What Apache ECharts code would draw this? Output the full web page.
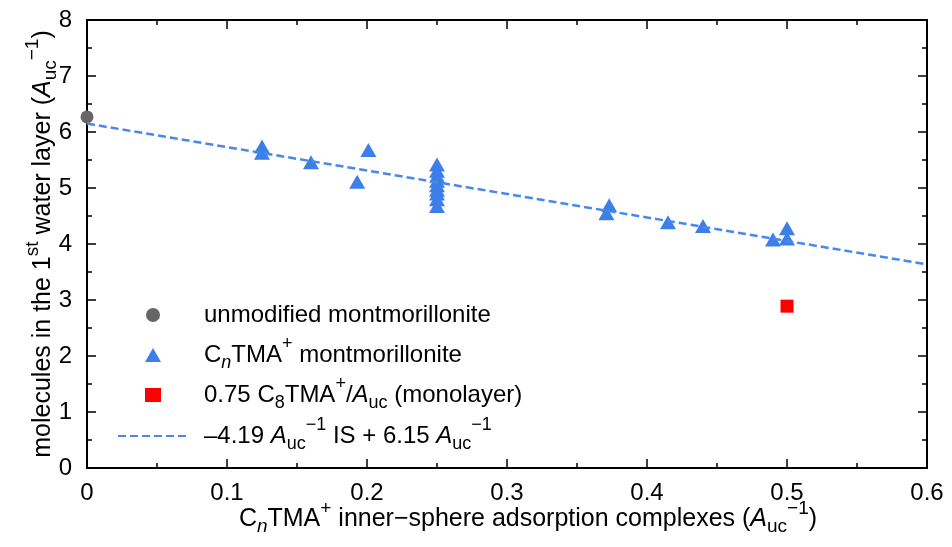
<!DOCTYPE html>
<html>
<head>
<meta charset="utf-8">
<script src="https://cdn.jsdelivr.net/npm/echarts@6/dist/echarts.min.js"></script>
<style>
  html, body { margin: 0; padding: 0; background: #fff; }
  #chart { width: 952px; height: 547px; }
</style>
</head>
<body>
<div id="chart"></div>
<script>
// Water molecules in the first water layer vs. inner-sphere adsorption complexes
const unmodifiedPoints = [[0, 6.27]];
const cnTmaPoints = [
  [0.125, 5.74], [0.125, 5.63], [0.16, 5.46], [0.193, 5.11], [0.201, 5.68],
  [0.25, 5.42], [0.25, 5.31], [0.25, 5.22], [0.25, 5.13], [0.25, 5.05],
  [0.25, 4.97], [0.25, 4.90], [0.25, 4.80], [0.25, 4.68],
  [0.373, 4.69], [0.371, 4.55], [0.415, 4.39], [0.44, 4.32],
  [0.49, 4.08], [0.50, 4.28], [0.50, 4.10]
];
const monolayerPoints = [[0.5, 2.89]];
const fitSlope = -4.19;
const fitIntercept = 6.15;
const fitXRange = [0, 0.6];

const xRange = [0, 0.6];
const yRange = [0, 8];

const FONT = '"Liberation Sans", Arial, Helvetica, sans-serif';

const fitLine = fitXRange.map(x => [x, fitIntercept + fitSlope * x]);

// rich-text styles for italics, subscripts and superscripts
function richSet(lh, base) {
  const small = Math.round(base * 0.75);
  return {
    it:  { fontFamily: FONT, fontSize: base, fontStyle: 'italic', color: '#000', lineHeight: lh },
    sub: { fontFamily: FONT, fontSize: small, color: '#000', lineHeight: lh, padding: [16, 0, 0, 0] },
    subIt: { fontFamily: FONT, fontSize: small, fontStyle: 'italic', color: '#000', lineHeight: lh, padding: [16, 0, 0, 0] },
    sup: { fontFamily: FONT, fontSize: small, color: '#000', lineHeight: lh, padding: [0, 0, 21, 0] }
  };
}

const legendLabels = {
  unmodified: 'unmodified montmorillonite',
  cntma: 'C{subIt|n}TMA{sup|+} montmorillonite',
  mono: '0.75 C{sub|8}TMA{sup|+}/{it|A}{sub|uc} (monolayer)',
  fit: '\u20134.19 {it|A}{sub|uc}{sup|\u22121} IS + 6.15 {it|A}{sub|uc}{sup|\u22121}'
};

const chart = echarts.init(document.getElementById('chart'), null, { renderer: 'canvas' });

const axisCommonX = {
  type: 'value', min: xRange[0], max: xRange[1], interval: 0.1,
  axisLine: { show: true, onZero: false, lineStyle: { color: '#000', width: 2 } },
  axisTick: { show: true, inside: true, length: 9, lineStyle: { color: '#000', width: 1.5 } },
  minorTick: { show: true, splitNumber: 2, length: 5, lineStyle: { color: '#000', width: 1.5 } },
  splitLine: { show: false }
};
const axisCommonY = {
  type: 'value', min: yRange[0], max: yRange[1], interval: 1,
  axisLine: { show: true, onZero: false, lineStyle: { color: '#000', width: 2 } },
  axisTick: { show: true, inside: true, length: 9, lineStyle: { color: '#000', width: 1.5 } },
  minorTick: { show: true, splitNumber: 2, length: 5, lineStyle: { color: '#000', width: 1.5 } },
  splitLine: { show: false }
};

chart.setOption({
  animation: false,
  backgroundColor: '#fff',
  textStyle: { fontFamily: FONT },
  grid: { left: 87, right: 25, top: 20, bottom: 79, containLabel: false },
  xAxis: [
    Object.assign({}, axisCommonX, {
      position: 'bottom',
      name: 'C{subIt|n}TMA{sup|+} inner\u2212sphere adsorption complexes ({it|A}{sub|uc}{sup|\u22121})',
      nameLocation: 'middle',
      nameGap: 36,
      nameMoveOverlap: false,
      nameTextStyle: {
        fontFamily: FONT, fontSize: 25, color: '#000', lineHeight: 30,
        padding: [0, 0, 0, 42],
        rich: richSet(30, 25)
      },
      axisLabel: { show: true, margin: 13, fontFamily: FONT, fontSize: 24, color: '#000' }
    }),
    Object.assign({}, axisCommonX, {
      position: 'top',
      axisLabel: { show: false }
    })
  ],
  yAxis: [
    Object.assign({}, axisCommonY, {
      position: 'left',
      name: 'molecules in the 1{sup|st} water layer ({it|A}{sub|uc}{sup|\u22121})',
      nameLocation: 'middle',
      nameGap: 29,
      nameMoveOverlap: false,
      nameTextStyle: {
        fontFamily: FONT, fontSize: 25, color: '#000', lineHeight: 30,
        rich: richSet(30, 25)
      },
      axisLabel: { show: true, margin: 15, fontFamily: FONT, fontSize: 24, color: '#000' }
    }),
    Object.assign({}, axisCommonY, {
      position: 'right',
      axisLabel: { show: false }
    })
  ],
  legend: [
    {
      orient: 'vertical',
      left: 145, top: 295, padding: 0, itemGap: 0,
      itemWidth: 16, itemHeight: 14,
      selectedMode: false,
      data: [
        { name: 'unmodified', icon: 'circle' },
        { name: 'cntma', icon: 'triangle' },
        { name: 'mono', icon: 'rect' }
      ],
      formatter: name => legendLabels[name],
      textStyle: {
        fontFamily: FONT, fontSize: 24, color: '#000', lineHeight: 40,
        padding: [0, 0, 0, 38],
        rich: richSet(40, 24)
      }
    },
    {
      orient: 'vertical',
      left: 117, top: 416, padding: 0, itemGap: 0,
      itemWidth: 70, itemHeight: 14,
      selectedMode: false,
      data: [{ name: 'fit', itemStyle: { color: 'rgba(0,0,0,0)', borderWidth: 0, opacity: 0 } }],
      formatter: name => legendLabels[name],
      textStyle: {
        fontFamily: FONT, fontSize: 24, color: '#000', lineHeight: 40,
        padding: [0, 0, 0, 11],
        rich: richSet(40, 24)
      }
    }
  ],
  series: [
    {
      name: 'unmodified', type: 'scatter', data: unmodifiedPoints,
      symbol: 'circle', symbolSize: 13,
      itemStyle: { color: '#666666', opacity: 1 }, z: 3
    },
    {
      name: 'cntma', type: 'scatter', data: cnTmaPoints,
      symbol: 'triangle', symbolSize: [16, 14],
      itemStyle: { color: '#3d7fe9', opacity: 1 }, z: 3
    },
    {
      name: 'mono', type: 'scatter', data: monolayerPoints,
      symbol: 'rect', symbolSize: 13,
      itemStyle: { color: '#ff0000', opacity: 1 }, z: 3
    },
    {
      name: 'fit', type: 'line', data: fitLine,
      symbol: 'none', silent: true,
      lineStyle: { color: '#4a88e8', width: 2.5, type: [8, 4] },
      itemStyle: { color: '#4a88e8' },
      z: 4
    }
  ]
});
</script>
</body>
</html>
